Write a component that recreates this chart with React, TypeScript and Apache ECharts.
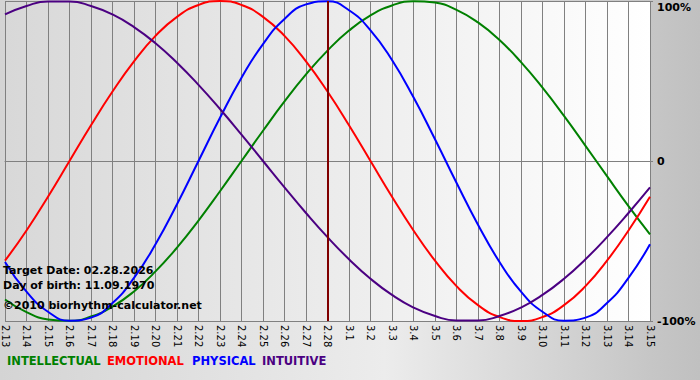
import React, { useEffect, useRef } from "react";
import * as echarts from "echarts";

const dates = [
  "2.13", "2.14", "2.15", "2.16", "2.17", "2.18", "2.19", "2.20", "2.21", "2.22",
  "2.23", "2.24", "2.25", "2.26", "2.27", "2.28", "3.1", "3.2", "3.3", "3.4",
  "3.5", "3.6", "3.7", "3.8", "3.9", "3.10", "3.11", "3.12", "3.13", "3.14", "3.15",
];

const intellectual = [
  -86.6, -94.5, -99.0, -99.9, -97.2, -91.0, -81.5, -69.0, -54.1, -37.2,
  -18.9, 0, 18.9, 37.2, 54.1, 69.0, 81.5, 91.0, 97.2, 99.9,
  99.0, 94.5, 86.6, 75.6, 61.8, 45.8, 28.2, 9.5, -9.5, -28.2, -45.8,
];

const emotional = [
  -62.3, -43.4, -22.3, 0, 22.3, 43.4, 62.3, 78.2, 90.1, 97.5,
  100, 97.5, 90.1, 78.2, 62.3, 43.4, 22.3, 0, -22.3, -43.4,
  -62.3, -78.2, -90.1, -97.5, -100, -97.5, -90.1, -78.2, -62.3, -43.4, -22.3,
];

const physical = [
  -63.1, -81.7, -94.2, -99.8, -97.9, -88.8, -73.1, -52.0, -27.0, 0,
  27.0, 52.0, 73.1, 88.8, 97.9, 99.8, 94.2, 81.7, 63.1, 39.8,
  13.6, -13.6, -39.8, -63.1, -81.7, -94.2, -99.8, -97.9, -88.8, -73.1, -52.0,
];

const intuitive = [
  91.6, 96.9, 99.7, 99.7, 96.9, 91.6, 83.7, 73.6, 61.4, 47.6,
  32.5, 16.5, 0, -16.5, -32.5, -47.6, -61.4, -73.6, -83.7, -91.6,
  -96.9, -99.7, -99.7, -96.9, -91.6, -83.7, -73.6, -61.4, -47.6, -32.5, -16.5,
];

const yTicks: Record<number, string> = { 100: "100%", 0: "0", [-100]: "-100%" };
const targetDay = "2.28";
const infoLines = [
  "Target Date: 02.28.2026",
  "Day of birth: 11.09.1970",
  "©2010 biorhythm-calculator.net",
];

const names = ["INTELLECTUAL", "EMOTIONAL", "PHYSICAL", "INTUITIVE"];
const colors = ["#008000", "#ff0000", "#0000ff", "#4b0082"];
const seriesData = [intellectual, emotional, physical, intuitive];

const FONT = "'DejaVu Sans', Verdana, sans-serif";

export default function App() {
  const ref = useRef<HTMLDivElement>(null);

  useEffect(() => {
    if (!ref.current) return;
    const chart = echarts.init(ref.current, undefined, { renderer: "svg" });

    const legendX = [7, 107, 192, 262];
    const infoY = [272, 287, 307];

    chart.setOption({
      animation: false,
      backgroundColor: new echarts.graphic.LinearGradient(0, 0, 1, 0, [
        { offset: 0, color: "#d4d4d4" },
        { offset: 0.55, color: "#ececec" },
        { offset: 0.93, color: "#c6c6c6" },
        { offset: 1, color: "#c0c0c0" },
      ]),
      grid: {
        left: 1,
        right: 50,
        top: 1,
        bottom: 59,
        show: true,
        borderWidth: 0,
        backgroundColor: new echarts.graphic.LinearGradient(0, 0, 1, 0, [
          { offset: 0, color: "#d8d8d8" },
          { offset: 1, color: "#ffffff" },
        ]),
      },
      xAxis: {
        type: "category",
        data: dates,
        boundaryGap: false,
        axisLine: { show: true, lineStyle: { color: "#808080", width: 1 } },
        axisTick: { show: true, length: 4, interval: 0, lineStyle: { color: "#808080" } },
        splitLine: { show: true, interval: 0, lineStyle: { color: "#808080", width: 1 } },
        axisLabel: {
          interval: 0,
          rotate: -90,
          margin: 4,
          fontSize: 10,
          color: "#000",
          fontFamily: FONT,
        },
      },
      yAxis: {
        type: "value",
        position: "right",
        min: -100,
        max: 100,
        interval: 100,
        axisLine: { show: false },
        axisTick: { show: true, length: 3, lineStyle: { color: "#808080" } },
        splitLine: { show: true, lineStyle: { color: "#808080", width: 1 } },
        axisLabel: {
          margin: 7,
          fontSize: 11,
          fontWeight: "bold",
          color: "#000",
          fontFamily: FONT,
          formatter: (v: number) =>
            v === 100 ? "{t|" + yTicks[v] + "}" : yTicks[v] ?? "",
          rich: {
            t: {
              fontSize: 11,
              fontWeight: "bold",
              color: "#000",
              fontFamily: FONT,
              padding: [12, 0, 0, 0],
            },
          },
        },
      },
      series: seriesData.map((d, i) => ({
        name: names[i],
        type: "line",
        data: d,
        smooth: 0.5,
        symbol: "none",
        lineStyle: { color: colors[i], width: 2 },
        itemStyle: { color: colors[i] },
        z: 2 + i,
        ...(i === 3
          ? {
              markLine: {
                silent: true,
                symbol: ["none", "none"],
                label: { show: false },
                lineStyle: { color: "#800000", width: 2, type: "solid" },
                data: [{ xAxis: targetDay }],
                z: 10,
              },
            }
          : {}),
      })),
      graphic: [
        ...infoLines.map((t, i) => ({
          type: "text",
          left: 3,
          top: infoY[i] - 7,
          z: 100,
          style: {
            text: t,
            fill: "#000",
            font: `bold 11px ${FONT}`,
          },
        })),
        ...names.map((n, i) => ({
          type: "text",
          left: legendX[i],
          top: 355,
          z: 100,
          style: {
            text: n,
            fill: colors[i],
            font: `bold 11.5px ${FONT}`,
          },
        })),
      ],
    });

    return () => chart.dispose();
  }, []);

  return (
    <div
      ref={ref}
      style={{ position: "fixed", left: 0, top: 0, width: 700, height: 380 }}
    />
  );
}
